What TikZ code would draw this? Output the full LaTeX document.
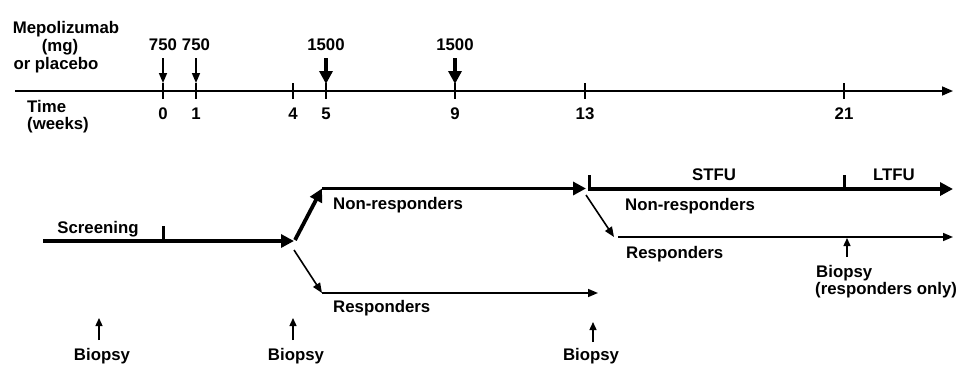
\documentclass[tikz,border=0pt]{standalone}
\usepackage{fontspec}
\setmainfont{Liberation Sans}
\usetikzlibrary{arrows.meta}
\begin{document}
\begin{tikzpicture}[x=1pt,y=-1pt,
  font=\bfseries\fontsize{16.8}{18}\selectfont,
  lbl/.style={inner sep=0pt, anchor=base},
  lbll/.style={inner sep=0pt, anchor=base west},
  axisline/.style={line width=1.6pt, -{Triangle[length=11pt,width=9pt]}},
  axtick/.style={line width=1.3pt},
  dosethin/.style={line width=1.5pt, -{Triangle[length=10pt,width=8pt]}},
  dosethick/.style={line width=3.4pt, -{Triangle[length=13pt,width=13pt]}},
  thickarr/.style={line width=3.8pt, -{Triangle[length=13pt,width=13pt]}},
  thinarr/.style={line width=1.6pt, -{Triangle[length=10pt,width=8pt]}},
  bartick/.style={line width=3pt},
  biopsyarr/.style={line width=1.4pt, -{Triangle[length=8pt,width=7pt]}}]
\useasboundingbox (0,0) rectangle (972,365);

% ---------- time axis ----------
\coordinate (axS) at (15,91);
\coordinate (axE) at (953,91);
\draw[axisline] (axS) -- (axE);
\foreach \w/\x in {0/163,1/196,4/293,5/326,9/455,13/585,21/844}{
  \coordinate (t\w) at (\x,91);
  \draw[axtick] (\x,83) -- (\x,99);
  \node[lbl] (tl\w) at (\x,119) {\w};
}
\node[lbll] (time) at (27,112) {Time};
\node[lbll] (weeks) at (27,129) {(weeks)};

% ---------- doses ----------
\node[lbl] (mepo) at (66,33) {Mepolizumab};
\node[lbl] (mg) at (60,51) {(mg)};
\node[lbl] (plac) at (56,69) {or placebo};
\node[lbl] (d0) at (163,50) {750};
\node[lbl] (d1) at (196,50) {750};
\node[lbl] (d5) at (326,50) {1500};
\node[lbl] (d9) at (455,50) {1500};
\coordinate (a0s) at (163,58); \coordinate (a0e) at (163,83);
\coordinate (a1s) at (196,58); \coordinate (a1e) at (196,83);
\coordinate (a5s) at (326,58); \coordinate (a5e) at (326,84);
\coordinate (a9s) at (455,58); \coordinate (a9e) at (455,84);
\draw[dosethin] (a0s) -- (a0e);
\draw[dosethin] (a1s) -- (a1e);
\draw[dosethick] (a5s) -- (a5e);
\draw[dosethick] (a9s) -- (a9e);

% ---------- screening ----------
\coordinate (scrS) at (43,241);
\coordinate (scrE) at (294,241);
\draw[thickarr] (scrS) -- (scrE);
\coordinate (scrT1) at (163,241); \coordinate (scrT2) at (163,226);
\draw[bartick] (scrT1) -- (scrT2);
\node[lbl] (screening) at (98,233) {Screening};

% ---------- week 4 split ----------
\coordinate (splA) at (295,240);
\coordinate (nrA) at (322,188.5);
\draw[thickarr] (splA) -- (nrA);
\coordinate (nrAE) at (586,188.5);
\draw[thickarr] (nrA) -- (nrAE);
\node[lbll] (nr1) at (333,209) {Non-responders};

\coordinate (splB) at (294,250);
\coordinate (rA) at (322,293);
\draw[thinarr] (splB) -- (rA);
\coordinate (rAE) at (598,293);
\draw[thinarr] (rA) -- (rAE);
\node[lbll] (r1) at (333,312) {Responders};

% ---------- week 13 split ----------
\coordinate (nrB) at (589,189);
\coordinate (nrBE) at (953,189);
\draw[thickarr] (nrB) -- (nrBE);
\draw[bartick] (589,190.5) -- (589,175);
\coordinate (t21a) at (844,189); \coordinate (t21b) at (844,175);
\draw[bartick] (t21a) -- (t21b);
\node[lbl] (stfu) at (714,180) {STFU};
\node[lbl] (ltfu) at (894,180) {LTFU};
\node[lbll] (nr2) at (625,210) {Non-responders};

\coordinate (splC) at (586,195);
\coordinate (rB) at (614,237);
\draw[thinarr] (splC) -- (rB);
\coordinate (rBS) at (618,237);
\coordinate (rBE) at (953,237);
\draw[thinarr] (rBS) -- (rBE);
\node[lbll] (r2) at (626,258) {Responders};

% ---------- biopsies ----------
\node[lbl] (b1) at (102,360) {Biopsy};
\node[lbl] (b2) at (296,360) {Biopsy};
\node[lbl] (b3) at (591,360) {Biopsy};
\draw[biopsyarr] (99,340) -- (99,318);
\draw[biopsyarr] (293,340) -- (293,318);
\draw[biopsyarr] (593,342) -- (593,322);
\draw[biopsyarr] (847,257) -- (847,238);
\node[lbll] (b4) at (816,277) {Biopsy};
\node[lbll] (b4b) at (815,294) {(responders only)};
\end{tikzpicture}
\end{document}
